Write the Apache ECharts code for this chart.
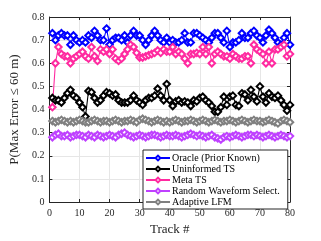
<!DOCTYPE html>
<html><head><meta charset="utf-8">
<script src="https://cdn.jsdelivr.net/npm/echarts@6/dist/echarts.min.js"></script>
<style>html,body{margin:0;padding:0;background:#fff}#c{width:321px;height:241px}</style>
</head><body><div id="c"></div>
<script>
var seriesNames = ['Oracle (Prior Known)', 'Uninformed TS', 'Meta TS', 'Random Waveform Select.', 'Adaptive LFM'];
var xTicks = [0, 10, 20, 30, 40, 50, 60, 70, 80];
var yTicks = [0, 0.1, 0.2, 0.3, 0.4, 0.5, 0.6, 0.7, 0.8];
var tracks = [];
for (var i = 1; i <= 80; i++) tracks.push(i);

var oracle = [0.73,0.70,0.72,0.73,0.72,0.72,0.68,0.72,0.70,0.69,0.70,0.69,0.72,0.71,0.74,0.72,0.70,0.70,0.75,0.68,
  0.70,0.71,0.71,0.70,0.72,0.69,0.72,0.74,0.72,0.72,0.70,0.68,0.70,0.72,0.74,0.72,0.70,0.69,0.71,0.69,
  0.70,0.69,0.69,0.70,0.73,0.69,0.69,0.73,0.73,0.72,0.71,0.70,0.69,0.71,0.73,0.73,0.71,0.69,0.74,0.67,
  0.69,0.69,0.70,0.73,0.71,0.71,0.73,0.74,0.72,0.71,0.69,0.72,0.745,0.73,0.71,0.69,0.68,0.71,0.73,0.68];
var uninformed = [0.45,0.44,0.44,0.43,0.45,0.47,0.485,0.46,0.45,0.43,0.41,0.37,0.48,0.475,0.45,0.43,0.44,0.46,0.475,0.47,
  0.46,0.465,0.44,0.43,0.43,0.43,0.44,0.46,0.44,0.43,0.42,0.44,0.45,0.45,0.46,0.49,0.46,0.44,
  0.51,0.44,0.415,0.435,0.44,0.43,0.435,0.43,0.415,0.44,0.435,0.45,0.455,0.44,0.43,0.415,0.39,0.39,0.41,0.455,0.42,0.455,
  0.46,0.42,0.415,0.47,0.465,0.44,0.485,0.455,0.435,0.50,0.455,0.43,0.47,0.455,0.45,0.46,0.44,0.42,0.395,0.42];
var metaTS = [0.41,0.60,0.67,0.64,0.63,0.63,0.60,0.62,0.63,0.64,0.65,0.63,0.62,0.67,0.63,0.61,0.66,0.65,0.66,0.64,
  0.66,0.62,0.61,0.62,0.64,0.66,0.68,0.67,0.645,0.625,0.625,0.63,0.635,0.64,0.645,0.655,0.645,0.66,
  0.65,0.65,0.67,0.64,0.65,0.64,0.62,0.60,0.64,0.64,0.645,0.64,0.67,0.64,0.67,0.60,0.64,0.65,0.64,0.63,0.63,0.62,
  0.64,0.63,0.62,0.62,0.63,0.63,0.60,0.68,0.66,0.65,0.64,0.60,0.65,0.60,0.66,0.66,0.67,0.68,0.63,0.64];
var randomWf = [0.28,0.29,0.295,0.285,0.285,0.29,0.28,0.285,0.29,0.29,0.285,0.28,0.29,0.285,0.28,0.29,0.285,0.28,0.285,0.29,
  0.285,0.28,0.29,0.295,0.30,0.29,0.285,0.28,0.285,0.29,0.285,0.28,0.285,0.29,0.29,0.285,0.28,0.285,0.29,0.285,
  0.285,0.29,0.285,0.28,0.285,0.29,0.295,0.29,0.285,0.29,0.285,0.28,0.285,0.29,0.28,0.275,0.27,0.28,0.285,0.28,
  0.285,0.29,0.285,0.28,0.285,0.29,0.29,0.285,0.29,0.285,0.28,0.285,0.29,0.285,0.28,0.285,0.29,0.285,0.28,0.285];
var adaptive = [0.35,0.345,0.35,0.355,0.35,0.345,0.35,0.345,0.35,0.355,0.35,0.345,0.345,0.35,0.355,0.35,0.345,0.35,0.35,0.345,
  0.35,0.355,0.35,0.345,0.35,0.35,0.355,0.35,0.345,0.355,0.36,0.355,0.35,0.345,0.35,0.355,0.35,0.345,0.35,0.345,
  0.35,0.355,0.35,0.345,0.35,0.35,0.355,0.35,0.345,0.35,0.355,0.35,0.345,0.35,0.355,0.35,0.345,0.35,0.35,0.355,
  0.35,0.345,0.35,0.355,0.35,0.345,0.35,0.355,0.35,0.35,0.345,0.35,0.355,0.35,0.345,0.34,0.35,0.355,0.35,0.345];

var values = [oracle, uninformed, metaTS, randomWf, adaptive];
var colors = ['#0000ff', '#000000', '#ff2aa0', '#bf40ff', '#808080'];

function pairs(v) { return tracks.map(function (t, i) { return [t, v[i]]; }); }

var serif = 'Liberation Serif';
var axisCol = '#262626';
var chart = echarts.init(document.getElementById('c'), null, {renderer: 'canvas'});
var series = seriesNames.map(function (n, k) {
  return {
    name: n, type: 'line', data: pairs(values[k]),
    xAxisIndex: 0, yAxisIndex: 0,
    symbol: 'emptyDiamond', symbolSize: 6.5, showAllSymbol: true,
    lineStyle: {color: colors[k], width: 1.1},
    itemStyle: {color: colors[k], borderColor: colors[k], borderWidth: 1},
    animation: false
  };
});
function mkX(pos, show) {
  return {
    type: 'value', position: pos, min: xTicks[0], max: xTicks[xTicks.length - 1], interval: 10,
    name: show ? 'Track #' : '', nameLocation: 'middle', nameGap: 21,
    nameTextStyle: {fontFamily: serif, fontSize: 13, color: axisCol},
    axisLine: {show: true, onZero: false, lineStyle: {color: axisCol, width: 1}},
    axisTick: {show: true, inside: true, length: 3, lineStyle: {color: axisCol}},
    axisLabel: {show: show, fontFamily: serif, fontSize: 10, color: axisCol, margin: 6},
    splitLine: {show: show, lineStyle: {color: '#e6e6e6', width: 1}}
  };
}
function mkY(pos, show) {
  return {
    type: 'value', position: pos, min: yTicks[0], max: yTicks[yTicks.length - 1], interval: 0.1,
    name: show ? 'P(Max Error \u2264 60 m)' : '', nameLocation: 'middle', nameGap: 27,
    nameTextStyle: {fontFamily: serif, fontSize: 13, color: axisCol},
    axisLine: {show: true, onZero: false, lineStyle: {color: axisCol, width: 1}},
    axisTick: {show: true, inside: true, length: 3, lineStyle: {color: axisCol}},
    axisLabel: {show: show, fontFamily: serif, fontSize: 10, color: axisCol, margin: 5,
      formatter: function (v) { return v === 0 ? '0' : v.toFixed(1); }},
    splitLine: {show: show, lineStyle: {color: '#e6e6e6', width: 1}}
  };
}
chart.setOption({
  animation: false,
  backgroundColor: '#fff',
  grid: {left: 41, right: 31, top: 17, bottom: 31, containLabel: false},
  xAxis: [mkX('bottom', true), mkX('top', false)],
  yAxis: [mkY('left', true), mkY('right', false)],
  legend: {
    orient: 'vertical', left: 143, top: 150,
    data: seriesNames,
    itemWidth: 24, itemHeight: 6, itemGap: 1,
    padding: [3, 8, 2, 2],
    borderColor: axisCol, borderWidth: 1, backgroundColor: '#fff',
    textStyle: {fontFamily: serif, fontSize: 10, color: '#000', padding: [0, 0, 0, -3]}
  },
  series: series
});
</script></body></html>
